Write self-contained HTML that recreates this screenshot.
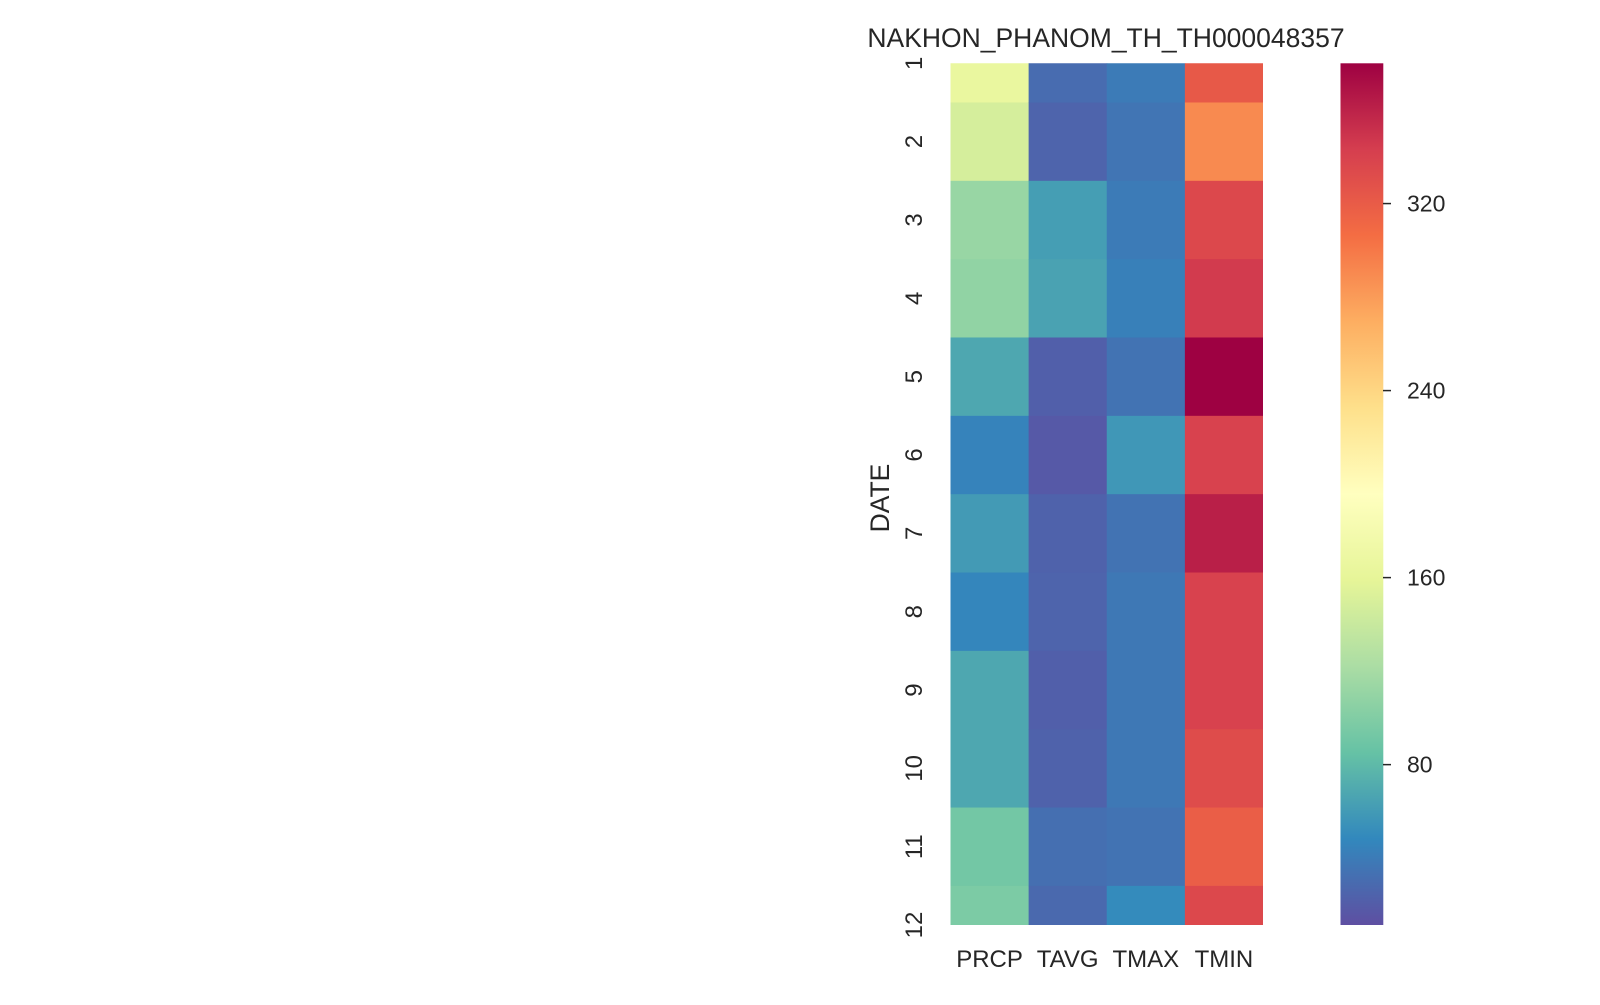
<!DOCTYPE html>
<html><head><meta charset="utf-8"><style>
body{margin:0;background:#fff;width:1600px;height:1000px;overflow:hidden}
svg text{font-family:"Liberation Sans",Arial,sans-serif;fill:#262626}
</style></head><body>
<svg id="chart" width="1600" height="1000" viewBox="0 0 1600 1000">
<text x="1106" y="47" font-size="26.5" text-anchor="middle">NAKHON_PHANOM_TH_TH000048357</text>
<text transform="translate(889,498) rotate(-90)" font-size="26.5" text-anchor="middle">DATE</text>
<defs><clipPath id="clip"><rect x="950.5" y="63.3" width="312.5" height="861.7"/></clipPath>
<linearGradient id="cbg" x1="0" y1="1" x2="0" y2="0"></linearGradient></defs>
<g id="cells" clip-path="url(#clip)"></g>
<g id="yticks"></g><g id="xticks"></g>
<rect x="1340.5" y="63.3" width="42.8" height="861.7" fill="url(#cbg)"/>
<g id="cbticks"></g>
</svg>
<script>
const rows=["1","2","3","4","5","6","7","8","9","10","11","12"];
const cols=["PRCP","TAVG","TMAX","TMIN"];
const prcp=[165,148,112,108,68,45,60,47,68,68,92,97];
const tavg=[30,25,62,65,22,18,24,25,22,24,32,28];
const tmax=[40,36,40,43,35,58,35,38,38,38,35,50];
const tmin=[322,290,335,345,380,340,362,340,340,332,318,335];
const cbTicks=[80,160,240,320];
const vmin=11.4,vmax=380;
const series=[prcp,tavg,tmax,tmin];
const stops=["#5e4fa2","#3288bd","#66c2a5","#abdda4","#e6f598","#ffffbf","#fee08b","#fdae61","#f46d43","#d53e4f","#9e0142"];
function hex(h){return [1,3,5].map(i=>parseInt(h.substr(i,2),16));}
function cmap(v){let t=Math.max(0,Math.min(1,(v-vmin)/(vmax-vmin)))*10;let i=Math.min(9,Math.floor(t)),f=t-i;
const a=hex(stops[i]),b=hex(stops[i+1]);return "rgb("+a.map((x,k)=>Math.round(x+(b[k]-x)*f)).join(",")+")";}
const NS="http://www.w3.org/2000/svg";
const x0=950.5,cw=78.125,rh=78.34,y0=63.3-rh/2;
const X=j=>x0+j*cw, Y=i=>y0+i*rh;
const cy=v=>925-(v-vmin)/(vmax-vmin)*861.7;
function mk(t,a,p){const e=document.createElementNS(NS,t);for(const k in a)e.setAttribute(k,a[k]);p.appendChild(e);return e;}
const cells=document.getElementById('cells');
series.forEach((s,j)=>s.forEach((v,i)=>{
 const r=mk('rect',{x:X(j),y:Y(i),width:cw+0.5,height:rh+0.5,fill:cmap(v)},cells);
 
 
}));
const yt=document.getElementById('yticks');
rows.forEach((r,i)=>{const yc=Y(i)+rh/2;
 const t=mk('text',{transform:`translate(922,${yc}) rotate(-90)`,'font-size':24,'text-anchor':'middle'},yt);t.textContent=r;
 
 });
const xt=document.getElementById('xticks');
cols.forEach((c,j)=>{const t=mk('text',{x:X(j)+cw/2,y:967,'font-size':24,'text-anchor':'middle'},xt);t.textContent=c;
 
 });
const g=document.getElementById('cbg');
stops.forEach((s,i)=>mk('stop',{offset:i/10,'stop-color':s},g));
const cb=document.getElementById('cbticks');
cbTicks.forEach(v=>{const y=cy(v);
 const l=mk('line',{x1:1383,x2:1391,y1:y,y2:y,stroke:'#262626','stroke-width':1.5},cb);
 
 
 const t=mk('text',{x:1407,y:y+8,'font-size':23},cb);t.textContent=v;
 
 });
</script>
</body></html>
